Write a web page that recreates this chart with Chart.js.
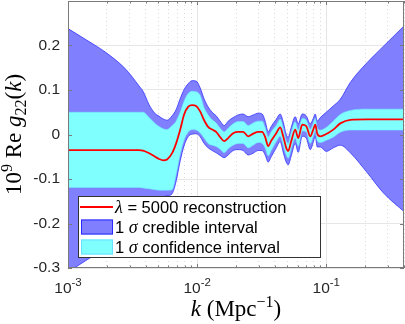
<!DOCTYPE html>
<html>
<head>
<meta charset="utf-8">
<script src="https://cdn.jsdelivr.net/npm/chart.js@4.4.1/dist/chart.umd.min.js"></script>
<style>
  html, body { margin: 0; padding: 0; background: #fff; }
  #wrap { width: 405px; height: 324px; }
</style>
</head>
<body>
<div id="wrap"><canvas id="gChart" width="405" height="324"></canvas></div>
<script>
// k values (Mpc^-1)
var kVals = [0.001, 0.001379, 0.001971, 0.002815, 0.003551, 0.003814, 0.004246, 0.004726, 0.005076, 0.005450,
    0.005852, 0.006401, 0.006875, 0.007383, 0.007929, 0.008515, 0.009146, 0.009822, 0.01055, 0.01133,
    0.01217, 0.01307, 0.01404, 0.01508, 0.01620, 0.01739, 0.01901, 0.02079, 0.02273, 0.02485,
    0.02717, 0.02971, 0.03191, 0.03366, 0.03551, 0.03747, 0.04097, 0.04399, 0.04642, 0.04897,
    0.05076, 0.05355, 0.05751, 0.06066, 0.06516, 0.06998, 0.07516, 0.07929, 0.08217, 0.08515,
    0.08985, 0.1000, 0.1133, 0.1284, 0.1535, 0.2079, 0.2766, 0.41];

// lambda = 5000 reconstruction (red line)
var recon = [-0.035, -0.035, -0.035, -0.035, -0.035, -0.036, -0.042, -0.050, -0.055, -0.058,
    -0.056, -0.042, -0.020, 0.010, 0.045, 0.062, 0.066, 0.064, 0.052, 0.032,
    0.017, 0.011, 0.006, -0.006, -0.015, -0.008, 0.003, 0.006, 0.006, -0.004,
    0.002, 0.006, 0.006, -0.006, -0.026, -0.014, 0.003, 0.016, -0.004, -0.030,
    -0.037, -0.015, 0.011, -0.008, 0.022, 0.019, -0.004, 0.011, 0.022, 0.002,
    -0.004, 0.001, 0.011, 0.025, 0.033, 0.034, 0.034, 0.034];

// 1 sigma credible interval (blue band)
var credUpper = [0.238, 0.213, 0.184, 0.146, 0.109, 0.097, 0.067, 0.047, 0.041, 0.035,
    0.032, 0.042, 0.056, 0.080, 0.101, 0.114, 0.121, 0.120, 0.105, 0.080,
    0.062, 0.050, 0.042, 0.030, 0.020, 0.030, 0.038, 0.044, 0.046, 0.040,
    0.044, 0.048, 0.046, 0.030, 0.006, 0.018, 0.034, 0.046, 0.028, 0.000,
    -0.006, 0.016, 0.040, 0.024, 0.046, 0.042, 0.024, 0.036, 0.046, 0.030,
    0.038, 0.050, 0.064, 0.079, 0.117, 0.162, 0.198, 0.247];
var credLower = [-0.309, -0.283, -0.254, -0.216, -0.179, -0.170, -0.160, -0.150, -0.145, -0.140,
    -0.138, -0.133, -0.105, -0.060, -0.025, -0.005, 0.001, 0.002, -0.005, -0.020,
    -0.030, -0.036, -0.041, -0.047, -0.052, -0.046, -0.036, -0.034, -0.036, -0.046,
    -0.042, -0.036, -0.036, -0.046, -0.062, -0.050, -0.030, -0.016, -0.040, -0.062,
    -0.068, -0.048, -0.020, -0.040, -0.004, -0.008, -0.034, -0.018, -0.004, -0.028,
    -0.028, -0.038, -0.030, -0.024, -0.041, -0.086, -0.131, -0.176];

// 1 sigma confidence interval (cyan band)
var confUpper = [0.050, 0.050, 0.050, 0.050, 0.050, 0.050, 0.038, 0.025, 0.018, 0.013,
    0.011, 0.020, 0.030, 0.050, 0.075, 0.092, 0.097, 0.096, 0.088, 0.060,
    0.044, 0.033, 0.026, 0.014, 0.006, 0.014, 0.024, 0.029, 0.029, 0.020,
    0.026, 0.030, 0.030, 0.015, -0.006, 0.006, 0.020, 0.034, 0.014, -0.014,
    -0.020, 0.004, 0.028, 0.010, 0.036, 0.032, 0.012, 0.025, 0.036, 0.016,
    0.010, 0.016, 0.030, 0.045, 0.054, 0.057, 0.057, 0.057];
var confLower = [-0.119, -0.119, -0.119, -0.119, -0.119, -0.120, -0.122, -0.124, -0.125, -0.125,
    -0.125, -0.124, -0.090, -0.045, -0.012, 0.005, 0.011, 0.010, 0.004, -0.008,
    -0.020, -0.024, -0.027, -0.033, -0.041, -0.032, -0.024, -0.020, -0.020, -0.030,
    -0.024, -0.018, -0.020, -0.030, -0.048, -0.036, -0.016, -0.004, -0.024, -0.046,
    -0.053, -0.032, -0.008, -0.026, 0.008, 0.006, -0.020, -0.004, 0.008, -0.014,
    -0.018, -0.013, -0.006, 0.005, 0.010, 0.010, 0.010, 0.010];

var legendLabels = ['λ = 5000 reconstruction', '1 σ credible interval', '1 σ confidence interval'];
var yTicks = [-0.3, -0.2, -0.1, 0, 0.1, 0.2];
var yTickLabels = ['-0.3', '-0.2', '-0.1', '0', '0.1', '0.2'];
var xMajorTicks = [0.001, 0.01, 0.1];
var xMinorTicks = [0.002, 0.003, 0.004, 0.005, 0.006, 0.007, 0.008, 0.009,
    0.02, 0.03, 0.04, 0.05, 0.06, 0.07, 0.08, 0.09, 0.2, 0.3, 0.4];
var xMin = 0.001, xMax = 0.4, yMin = -0.3, yMax = 0.3;

var SANS = "'Liberation Sans', Arial, sans-serif";
var SERIF = "'Liberation Serif', 'Times New Roman', serif";

function pts(arr) {
    return kVals.map(function (k, i) { return { x: k, y: arr[i] }; });
}

// draws a list of text pieces in a row, centred on x
function drawRuns(ctx, runs, x, y) {
    var total = 0;
    runs.forEach(function (r) { ctx.font = r.font; total += ctx.measureText(r.t).width; });
    var cx = x - total / 2;
    ctx.textAlign = 'left';
    ctx.textBaseline = 'alphabetic';
    runs.forEach(function (r) {
        ctx.font = r.font;
        ctx.fillText(r.t, cx, y + (r.dy || 0));
        cx += ctx.measureText(r.t).width;
    });
}

// legend text: greek letters go in italic serif
function drawLabel(ctx, text, x, y) {
    var parts = text.split(/([\u0370-\u03ff])/);
    ctx.textAlign = 'left';
    ctx.textBaseline = 'middle';
    parts.forEach(function (p) {
        if (!p) return;
        if (/[\u0370-\u03ff]/.test(p)) ctx.font = 'italic 18px ' + SERIF;
        else ctx.font = '16.5px ' + SANS;
        ctx.fillText(p, x, y);
        x += ctx.measureText(p).width;
    });
}

var axisDeco = {
    id: 'axisDeco',
    afterDatasetsDraw: function (chart) {
        var ctx = chart.ctx, a = chart.chartArea;
        var sx = chart.scales.x, sy = chart.scales.y;
        ctx.save();
        ctx.strokeStyle = '#7a7a7a';
        ctx.lineWidth = 1;
        ctx.beginPath();
        xMajorTicks.concat(xMinorTicks).forEach(function (v) {
            var px = Math.round(sx.getPixelForValue(v)) + 0.5;
            var len = xMajorTicks.indexOf(v) >= 0 ? 4 : 2.5;
            ctx.moveTo(px, a.bottom); ctx.lineTo(px, a.bottom - len);
            ctx.moveTo(px, a.top); ctx.lineTo(px, a.top + len);
        });
        yTicks.forEach(function (v) {
            var py = Math.round(sy.getPixelForValue(v)) + 0.5;
            ctx.moveTo(a.left, py); ctx.lineTo(a.left + 4, py);
            ctx.moveTo(a.right, py); ctx.lineTo(a.right - 4, py);
        });
        ctx.stroke();
        ctx.strokeRect(a.left + 0.5, a.top + 0.5, a.right - a.left - 1, a.bottom - a.top - 1);
        ctx.restore();
    },
    afterDraw: function (chart) {
        var ctx = chart.ctx, a = chart.chartArea;
        var sx = chart.scales.x;
        var ds = chart.data.datasets;
        ctx.save();

        // x tick labels 10^n
        ctx.fillStyle = '#262626';
        xMajorTicks.forEach(function (v) {
            var px = sx.getPixelForValue(v);
            var e = Math.round(Math.log10(v));
            drawRuns(ctx, [
                { t: '10', font: '15.5px ' + SANS },
                { t: String(e), font: '11.5px ' + SANS, dy: -7 }
            ], px, a.bottom + 25);
        });

        // axis titles
        ctx.fillStyle = '#000';
        drawRuns(ctx, [
            { t: 'k', font: 'italic 23px ' + SERIF },
            { t: ' (Mpc', font: '23px ' + SERIF },
            { t: '\u22121', font: '16px ' + SERIF, dy: -9 },
            { t: ')', font: '23px ' + SERIF }
        ], (a.left + a.right) / 2, 316);

        ctx.save();
        ctx.translate(21, (a.top + a.bottom) / 2);
        ctx.rotate(-Math.PI / 2);
        drawRuns(ctx, [
            { t: '10', font: '23px ' + SERIF },
            { t: '9', font: '16px ' + SERIF, dy: -9 },
            { t: ' Re ', font: '23px ' + SERIF },
            { t: 'g', font: 'italic 23px ' + SERIF },
            { t: '22', font: '16px ' + SERIF, dy: 5 },
            { t: '(', font: '23px ' + SERIF },
            { t: 'k', font: 'italic 23px ' + SERIF },
            { t: ')', font: '23px ' + SERIF }
        ], 0, 0);
        ctx.restore();

        // legend box inside the axes, lower left
        var bx = a.left + 10, by = a.bottom - 72, bw = 242, bh = 61;
        ctx.fillStyle = '#fff';
        ctx.fillRect(bx, by, bw, bh);
        ctx.strokeStyle = '#333';
        ctx.lineWidth = 1;
        ctx.strokeRect(bx + 0.5, by + 0.5, bw, bh);

        var items = [ds[4], ds[0], ds[2]];
        items.forEach(function (d, i) {
            var cy = by + 11 + i * 20;
            if (i === 0) {
                ctx.strokeStyle = d.borderColor;
                ctx.lineWidth = 2;
                ctx.beginPath();
                ctx.moveTo(bx + 2, cy); ctx.lineTo(bx + 35, cy);
                ctx.stroke();
            } else {
                ctx.fillStyle = d.backgroundColor;
                ctx.fillRect(bx + 3, cy - 7.5, 32, 15);
                ctx.strokeStyle = d.legendEdge;
                ctx.lineWidth = 1;
                ctx.strokeRect(bx + 3.5, cy - 7, 31, 14);
            }
            ctx.fillStyle = '#000';
            drawLabel(ctx, d.label, bx + 37, cy + 1);
        });
        ctx.restore();
    }
};

var lineBase = { pointRadius: 0, pointHoverRadius: 0, cubicInterpolationMode: 'monotone' };

var datasets = [
    Object.assign({ label: legendLabels[1], data: pts(credUpper), borderColor: '#3333ff', borderWidth: 0.8,
        backgroundColor: '#8080ff', legendEdge: '#2a2aff', fill: '+1', order: 4 }, lineBase),
    Object.assign({ label: '', data: pts(credLower), borderColor: '#3333ff', borderWidth: 0.8,
        fill: false, order: 3 }, lineBase),
    Object.assign({ label: legendLabels[2], data: pts(confUpper), borderColor: '#70e8ff', borderWidth: 0.6,
        backgroundColor: '#80ffff', legendEdge: '#66e0ff', fill: '+1', order: 2 }, lineBase),
    Object.assign({ label: '', data: pts(confLower), borderColor: '#70e8ff', borderWidth: 0.6,
        fill: false, order: 1 }, lineBase),
    Object.assign({ label: legendLabels[0], data: pts(recon), borderColor: '#ff0000', borderWidth: 1.8,
        fill: false, order: 0 }, lineBase)
];

var config = {
    type: 'line',
    data: { datasets: datasets },
    options: {
        responsive: false,
        animation: false,
        events: [],
        layout: { padding: { top: 1, right: 1, left: 0, bottom: 0 } },
        plugins: {
            legend: { display: false },
            tooltip: { enabled: false },
            filler: { drawTime: 'beforeDatasetDraw' }
        },
        scales: {
            x: {
                type: 'logarithmic', min: xMin, max: xMax, position: 'bottom',
                afterBuildTicks: function (s) { s.ticks = xMajorTicks.map(function (v) { return { value: v, major: true }; }); },
                afterFit: function (s) { s.height = 56; s.paddingLeft = 0; s.paddingRight = 0; },
                ticks: { display: false },
                grid: { color: '#e6e6e6', drawTicks: false },
                border: { display: false }
            },
            x2: {
                type: 'logarithmic', min: xMin, max: xMax, position: 'bottom',
                afterBuildTicks: function (s) { s.ticks = xMinorTicks.map(function (v) { return { value: v }; }); },
                afterFit: function (s) { s.height = 0; s.paddingLeft = 0; s.paddingRight = 0; },
                ticks: { display: false },
                grid: { color: '#dadada', drawTicks: false },
                border: { display: false, dash: [1, 3] }
            },
            y: {
                type: 'linear', min: yMin, max: yMax, position: 'left',
                afterBuildTicks: function (s) { s.ticks = yTicks.map(function (v) { return { value: v }; }); },
                afterFit: function (s) { s.width = 68; s.paddingTop = 0; s.paddingBottom = 0; },
                ticks: {
                    padding: 8, color: '#262626', font: { family: SANS, size: 15.5 },
                    callback: function (v, i) { return yTickLabels[i]; }
                },
                grid: { color: '#e6e6e6', drawTicks: false },
                border: { display: false }
            }
        }
    },
    plugins: [axisDeco]
};

var gChart = new Chart(document.getElementById('gChart'), config);
</script>
</body>
</html>
